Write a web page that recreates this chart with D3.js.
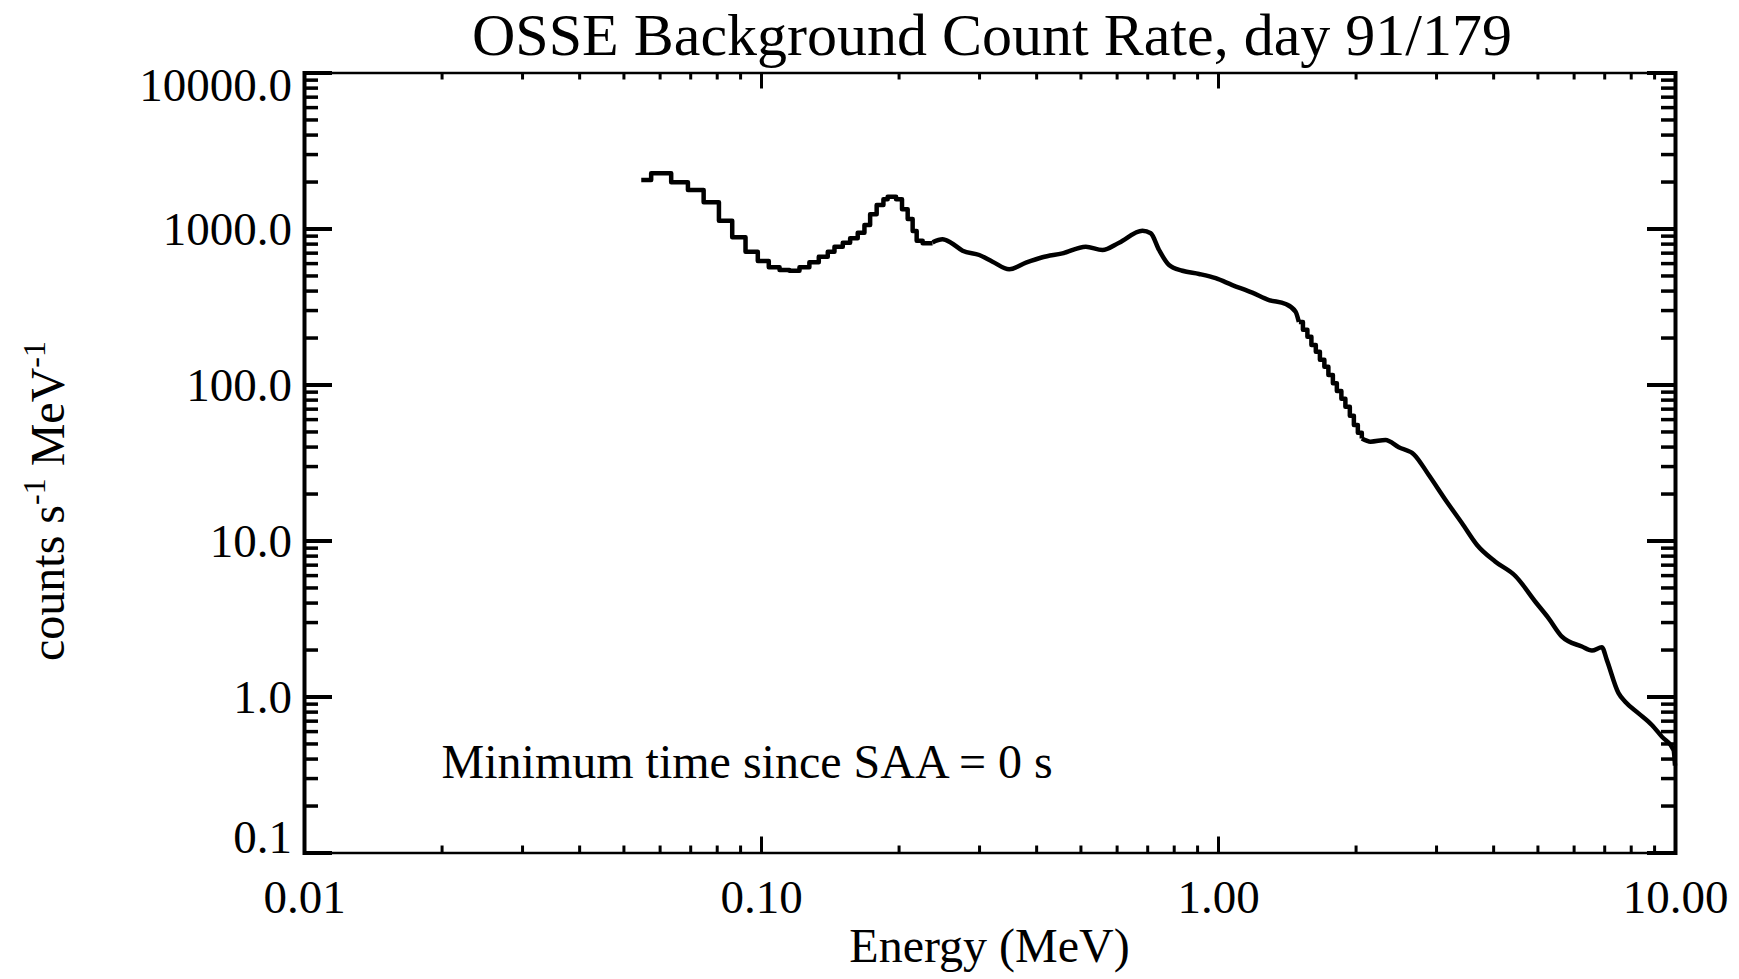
<!DOCTYPE html>
<html lang="en">

<head>
  <meta charset="UTF-8" />
  <script src="https://cdn.jsdelivr.net/npm/d3@7/dist/d3.min.js"></script>
  <title>OSSE Background Count Rate</title>
  <style>
    body { margin: 0; background: #fff; }
    text { font-family: "Liberation Serif", "Times New Roman", serif; fill: #000; }
  </style>
</head>

<body>
  <svg width="1739" height="979"></svg>
  <script>
    // low energy channels (bin left edges, last value = right edge of last bin)
    const lowE = [0.0547, 0.0575, 0.0636, 0.0692, 0.0749, 0.0809, 0.0865, 0.0925, 0.0984, 0.1040,
      0.1098, 0.1154, 0.1214, 0.1276, 0.1338, 0.1400, 0.1448, 0.1510, 0.1567, 0.1628,
      0.1684, 0.1733, 0.1791, 0.1853, 0.1893, 0.1975, 0.2035, 0.2094, 0.2147, 0.2191,
      0.2258, 0.2374];
    const lowRate = [2046, 2258, 1978, 1766, 1472, 1122, 878, 710, 619, 564,
      542, 536, 564, 607, 659, 710, 764, 811, 865, 940,
      1053, 1233, 1415, 1539, 1599, 1539, 1328, 1151, 964, 835,
      804, 804];

    // mid range, fine binning
    const midE = [0.2374, 0.2496, 0.2604, 0.2761, 0.3003, 0.3211, 0.3493, 0.3800, 0.4130, 0.4567,
      0.5138, 0.5587, 0.6076, 0.6833, 0.7126, 0.7430, 0.7814, 0.8356, 0.9090, 0.9885,
      1.0748, 1.1885, 1.2927, 1.4060, 1.4784, 1.503];
    const midRate = [815, 853, 811, 721, 676, 613, 548, 604, 654, 693,
      764, 728, 811, 968, 932, 728, 583, 536, 511, 480,
      434, 388, 348, 328, 293, 252];

    // stepped section around 1.5 - 2 MeV
    const stairE = [1.503, 1.534, 1.569, 1.601, 1.637, 1.671, 1.709, 1.744, 1.784, 1.820,
      1.862, 1.900, 1.943, 1.983, 2.023, 2.064];
    const stairRate = [252, 224, 202, 179, 162, 144, 130, 115, 102, 91,
      81, 72, 63, 55, 49, 45];

    // high energy
    const highE = [2.064, 2.157, 2.326, 2.486, 2.682, 2.892, 3.147, 3.420, 3.688, 4.046,
      4.474, 4.948, 5.291, 5.657, 6.256, 6.579, 6.918, 7.094, 7.523, 7.781,
      8.322, 8.899, 9.357, 9.93, 10.0];
    const highRate = [45, 43.0, 44.1, 39.6, 35.7, 26.3, 18.2, 12.9, 9.36, 7.31,
      5.92, 4.05, 3.17, 2.42, 2.09, 1.97, 2.07, 1.71, 1.05, 0.926,
      0.780, 0.657, 0.553, 0.454, 0.36];

    const xMajor = [0.01, 0.1, 1, 10];
    const yMajor = [0.1, 1, 10, 100, 1000, 10000];

    const svg = d3.select("svg");

    const x = d3.scaleLog().domain([0.01, 10]).range([304, 1675]);
    const y = d3.scaleLog().domain([0.1, 10000]).range([852.5, 72.5]);

    // minor ticks 2..9 in each decade
    const minors = (majors) => {
      const out = [];
      majors.slice(0, -1).forEach(m => { for (let k = 2; k <= 9; k++) out.push(m * k); });
      return out;
    };
    const xMinor = minors(xMajor);
    const yMinor = minors(yMajor);

    const [xLeft, xRight] = x.range();
    const [yBottom, yTop] = y.range();

    const styleAxis = (g, domainWidth, tickWidth) => {
      g.select(".domain").attr("stroke-width", domainWidth).attr("stroke-linecap", "square");
      g.selectAll(".tick line").attr("stroke-width", tickWidth);
    };

    // x axes
    const xb = svg.append("g").attr("transform", `translate(0,${yBottom})`)
      .call(d3.axisBottom(x).tickValues(xMajor).tickSize(-16).tickSizeOuter(0)
        .tickPadding(27).tickFormat(d3.format(".2f")));
    styleAxis(xb, 2.5, 3);
    xb.append("g").call(d3.axisBottom(x).tickValues(xMinor).tickSize(-7).tickFormat(""))
      .call(g => g.select(".domain").remove())
      .selectAll(".tick line").attr("stroke-width", 3);

    const xt = svg.append("g").attr("transform", `translate(0,${yTop})`)
      .call(d3.axisTop(x).tickValues(xMajor).tickSize(-16).tickSizeOuter(0).tickFormat(""));
    styleAxis(xt, 2.5, 3);
    xt.append("g").call(d3.axisTop(x).tickValues(xMinor).tickSize(-7).tickFormat(""))
      .call(g => g.select(".domain").remove())
      .selectAll(".tick line").attr("stroke-width", 3);

    // y axes
    const yl = svg.append("g").attr("transform", `translate(${xLeft},0)`)
      .call(d3.axisLeft(y).tickValues(yMajor).tickSize(-28).tickSizeOuter(0)
        .tickPadding(12).tickFormat(d3.format(".1f")));
    styleAxis(yl, 4, 4);
    yl.append("g").call(d3.axisLeft(y).tickValues(yMinor).tickSize(-14).tickFormat(""))
      .call(g => g.select(".domain").remove())
      .selectAll(".tick line").attr("stroke-width", 3.5);

    const yr = svg.append("g").attr("transform", `translate(${xRight},0)`)
      .call(d3.axisRight(y).tickValues(yMajor).tickSize(-28).tickSizeOuter(0).tickFormat(""));
    styleAxis(yr, 4, 4);
    yr.append("g").call(d3.axisRight(y).tickValues(yMinor).tickSize(-14).tickFormat(""))
      .call(g => g.select(".domain").remove())
      .selectAll(".tick line").attr("stroke-width", 3.5);

    svg.selectAll(".tick text")
      .attr("font-family", '"Liberation Serif", "Times New Roman", serif')
      .attr("font-size", 47)
      .attr("fill", "#000");

    // end labels kept inside the axis range
    yl.selectAll(".tick text")
      .attr("dy", d => d === 10000 ? "0.6em" : d === 0.1 ? "0em" : "0.33em");

    // spectrum
    const pts = (es, rs) => es.map((e, i) => [e, rs[i]]);
    const stepLine = d3.line().x(d => x(d[0])).y(d => y(d[1])).curve(d3.curveStepAfter);
    const smoothLine = d3.line().x(d => x(d[0])).y(d => y(d[1])).curve(d3.curveMonotoneX);

    const segs = [
      [pts(lowE, lowRate), stepLine],
      [pts(midE, midRate), smoothLine],
      [pts(stairE, stairRate), stepLine],
      [pts(highE, highRate), smoothLine]
    ];
    segs.forEach(([data, gen]) => {
      svg.append("path")
        .attr("d", gen(data))
        .attr("fill", "none")
        .attr("stroke", "#000")
        .attr("stroke-width", 4.5)
        .attr("stroke-linejoin", "round");
    });

    // texts
    svg.append("text")
      .attr("x", 992).attr("y", 55)
      .attr("text-anchor", "middle")
      .attr("font-size", 60)
      .text("OSSE Background Count Rate, day 91/179");

    svg.append("text")
      .attr("x", (xLeft + xRight) / 2).attr("y", 962)
      .attr("text-anchor", "middle")
      .attr("font-size", 48)
      .text("Energy (MeV)");

    const yt = svg.append("text")
      .attr("transform", "translate(64,501) rotate(-90)")
      .attr("text-anchor", "middle")
      .attr("font-size", 48);
    yt.append("tspan").text("counts s");
    yt.append("tspan").attr("dy", -19).attr("font-size", 32).text("-1");
    yt.append("tspan").attr("dy", 19).text(" MeV");
    yt.append("tspan").attr("dy", -19).attr("font-size", 32).text("-1");

    svg.append("text")
      .attr("x", x(0.02)).attr("y", y(0.3))
      .attr("font-size", 48)
      .text("Minimum time since SAA = 0 s");
  </script>
</body>

</html>
